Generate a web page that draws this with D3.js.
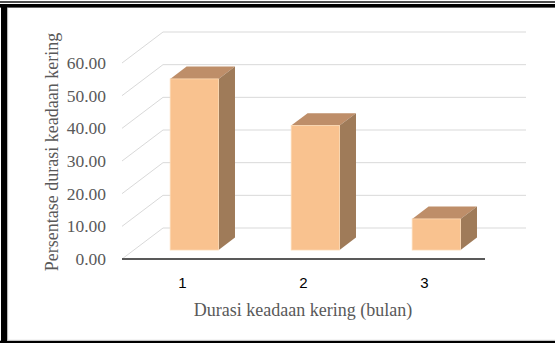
<!DOCTYPE html>
<html>
<head>
<meta charset="utf-8">
<script src="https://cdnjs.cloudflare.com/ajax/libs/d3/7.8.5/d3.min.js"></script>
<style>
body{margin:0;background:#fff;}
svg{display:block;}
</style>
</head>
<body>
<div id="chart"></div>
<script>
var categories=['1','2','3'];
var values=[52.38,38.10,9.52];
var yTicks=[0,10,20,30,40,50,60];
var yTickLabels=['0.00','10.00','20.00','30.00','40.00','50.00','60.00'];
var xTitle='Durasi keadaan kering (bulan)';
var yTitle='Persentase durasi keadaan kering';

var W=555, H=343;
var depthX=41, depthY=31; // full floor depth (front -> back wall)
var barFront=0.29, barBack=0.69, barWidthRatio=0.4;
var gridColor='#d9d9d9', textGrey='#595959',
	faceColor='#f9c28f', topColor='#be8e69', sideColor='#9f7b59';

var svg=d3.select('#chart').append('svg')
	.attr('width',W)
	.attr('height',H);

var x=d3.scaleBand()
	.domain(categories)
	.range([122,485]);
var y=d3.scaleLinear()
	.domain([0,60])
	.range([259,63]);

// frame
svg.append('rect').attr('x',0).attr('y',1.3).attr('width',W).attr('height',1.4).attr('fill','#000');
svg.append('rect').attr('x',0).attr('y',4).attr('width',W).attr('height',3.6).attr('fill','#000');
svg.append('rect').attr('x',1).attr('y',4).attr('width',6.3).attr('height',H).attr('fill','#000');
svg.append('rect').attr('x',7.3).attr('y',7.6).attr('width',0.8).attr('height',H).attr('fill','#bbb');
svg.append('rect').attr('x',0).attr('y',340.7).attr('width',W).attr('height',3).attr('fill','#000');
svg.append('rect').attr('x',7).attr('y',339.8).attr('width',W).attr('height',0.9).attr('fill','#ccc');

// walls gridlines
var grid=svg.append('g');
yTicks.forEach(function(t){
	var yf=y(t), x0=x.range()[0], x1=x.range()[1];
	grid.append('line')
		.attr('x1',x0).attr('y1',yf)
		.attr('x2',x0+depthX).attr('y2',yf-depthY)
		.attr('stroke',gridColor).attr('stroke-width',1);
	grid.append('line')
		.attr('x1',x0+depthX).attr('y1',yf-depthY)
		.attr('x2',x1+depthX).attr('y2',yf-depthY)
		.attr('stroke',gridColor).attr('stroke-width',1);
});

// bars
var bw=x.bandwidth()*barWidthRatio;
var fdx=barFront*depthX, fdy=barFront*depthY;
var ddx=(barBack-barFront)*depthX, ddy=(barBack-barFront)*depthY;
var bars=svg.append('g').selectAll('g')
	.data(values)
	.enter().append('g');
function pts(a){return a.map(function(p){return p.join(',');}).join(' ');}
bars.each(function(d,i){
	var g=d3.select(this);
	var cx=x(categories[i])+x.bandwidth()/2+fdx;
	var x0=cx-bw/2, x1=cx+bw/2;
	var yb=y(0)-fdy, yt=y(d)-fdy;
	g.append('polygon')
		.attr('points',pts([[x0,yt],[x0+ddx,yt-ddy],[x1+ddx,yt-ddy],[x1,yt]]))
		.attr('fill',topColor);
	g.append('polygon')
		.attr('points',pts([[x1,yt],[x1+ddx,yt-ddy],[x1+ddx,yb-ddy],[x1,yb]]))
		.attr('fill',sideColor);
	g.append('rect')
		.attr('x',x0).attr('y',yt)
		.attr('width',bw).attr('height',yb-yt)
		.attr('fill',faceColor)
		.attr('stroke','#fcd9b4').attr('stroke-width',0.8);
});

// x axis line
svg.append('line')
	.attr('x1',x.range()[0]).attr('y1',y(0))
	.attr('x2',x.range()[1]).attr('y2',y(0))
	.attr('stroke',textGrey).attr('stroke-width',1.8);

// y tick labels
svg.append('g').selectAll('text')
	.data(yTicks)
	.enter().append('text')
	.attr('x',106)
	.attr('y',function(d){return y(d);})
	.attr('dy','0.34em')
	.attr('text-anchor','end')
	.style('font-family','"Liberation Serif","Times New Roman",serif')
	.style('font-size','17.5px')
	.attr('fill',textGrey)
	.text(function(d,i){return yTickLabels[i];});

// x category labels
svg.append('g').selectAll('text')
	.data(categories)
	.enter().append('text')
	.attr('x',function(d){return x(d)+x.bandwidth()/2;})
	.attr('y',288)
	.attr('text-anchor','middle')
	.style('font-family','"Liberation Sans",Arial,sans-serif')
	.style('font-size','15px')
	.attr('fill','#000')
	.text(function(d){return d;});

// titles
svg.append('text')
	.attr('x',303).attr('y',316)
	.attr('text-anchor','middle')
	.style('font-family','"Liberation Serif","Times New Roman",serif')
	.style('font-size','18px')
	.attr('fill',textGrey)
	.text(xTitle);
svg.append('text')
	.attr('transform','translate(58,152) rotate(-90)')
	.attr('text-anchor','middle')
	.style('font-family','"Liberation Serif","Times New Roman",serif')
	.style('font-size','18px')
	.attr('fill',textGrey)
	.text(yTitle);
</script>
</body>
</html>
